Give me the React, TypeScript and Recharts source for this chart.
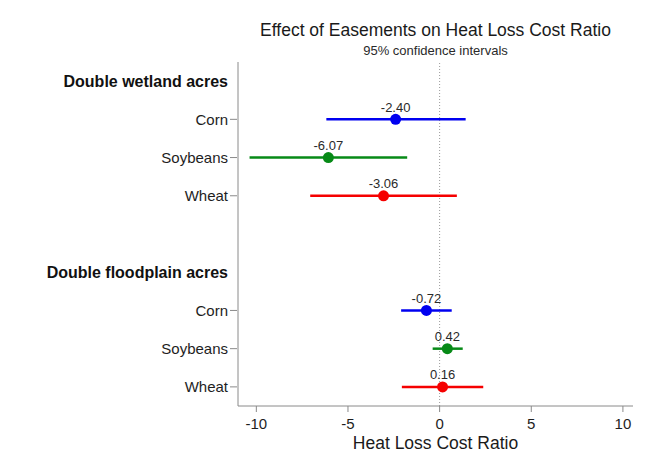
import { ScatterChart, Scatter, XAxis, YAxis, ErrorBar, ReferenceLine, LabelList } from 'recharts'

// rows from top to bottom (index = y position)
const rowLabels = ['Double wetland acres', 'Corn', 'Soybeans', 'Wheat', '', 'Double floodplain acres', 'Corn', 'Soybeans', 'Wheat']
const headerRows = [0, 5]
const wetlandRows = [1, 2, 3]
const floodplainRows = [6, 7, 8]

const crops = ['Corn', 'Soybeans', 'Wheat']
const cropColors = ['#0000f0', '#078a17', '#f50000']

const wetlandEstimates = [-2.40, -6.07, -3.06]
const wetlandLower = [-6.18, -10.37, -7.06]
const wetlandUpper = [1.42, -1.77, 0.94]

const floodplainEstimates = [-0.72, 0.42, 0.16]
const floodplainLower = [-2.10, -0.38, -2.06]
const floodplainUpper = [0.66, 1.26, 2.38]

const xTicks = [-10, -5, 0, 5, 10]
const rowTicks = [0, 1, 2, 3, 4, 5, 6, 7, 8]

const FONT = '"Liberation Sans", Arial, sans-serif'
const AXIS_GRAY = '#8a8a8a'

function cropSeries(i: number) {
  return [
    {
      x: wetlandEstimates[i],
      y: wetlandRows[i],
      err: [wetlandEstimates[i] - wetlandLower[i], wetlandUpper[i] - wetlandEstimates[i]],
      label: wetlandEstimates[i].toFixed(2),
    },
    {
      x: floodplainEstimates[i],
      y: floodplainRows[i],
      err: [floodplainEstimates[i] - floodplainLower[i], floodplainUpper[i] - floodplainEstimates[i]],
      label: floodplainEstimates[i].toFixed(2),
    },
  ]
}

function RowTick({ x, y, payload }: { x?: number; y?: number; payload?: { value: number } }) {
  const i = payload?.value ?? 0
  const text = rowLabels[i]
  if (!text) return null
  const header = headerRows.includes(i)
  return (
    <g>
      {!header && <line x1={(x ?? 0) + 1} x2={(x ?? 0) + 8} y1={y} y2={y} stroke={AXIS_GRAY} strokeWidth={1} />}
      <text
        x={(x ?? 0) - 1}
        y={y}
        dy="0.35em"
        textAnchor="end"
        fontSize={header ? 16 : 15}
        fontWeight={header ? 'bold' : 'normal'}
        fill={header ? '#111' : '#1e1e1e'}
        fontFamily={FONT}
      >
        {text}
      </text>
    </g>
  )
}

export default function App() {
  return (
    <div style={{ position: 'absolute', left: 0, top: 0, width: 654, height: 461, background: '#fff', fontFamily: FONT }}>
      <div style={{ position: 'absolute', left: 238, width: 395, top: 20, textAlign: 'center', fontSize: 17.5, color: '#1a1a1a', whiteSpace: 'nowrap' }}>
        Effect of Easements on Heat Loss Cost Ratio
      </div>
      <div style={{ position: 'absolute', left: 238, width: 395, top: 43, textAlign: 'center', fontSize: 13, color: '#2a2a2a', whiteSpace: 'nowrap' }}>
        95% confidence intervals
      </div>
      <ScatterChart width={654} height={461} margin={{ top: 62, right: 21, bottom: 10, left: 0 }} style={{ fontFamily: FONT }}>
        <XAxis
          type="number"
          dataKey="x"
          domain={[-11, 10.55]}
          ticks={xTicks}
          allowDataOverflow
          stroke={AXIS_GRAY}
          tickSize={6}
          tickMargin={6}
          height={45}
          tick={{ fontSize: 15, fill: '#1e1e1e' }}
          label={{ value: 'Heat Loss Cost Ratio', position: 'insideBottom', offset: 2, fontSize: 17.5, fill: '#1a1a1a' }}
        />
        <YAxis
          type="number"
          dataKey="y"
          domain={[-0.5, 8.5]}
          ticks={rowTicks}
          reversed
          width={238}
          stroke={AXIS_GRAY}
          tickLine={false}
          tickSize={8}
          tickMargin={1}
          tick={<RowTick />}
          interval={0}
        />
        <ReferenceLine x={0} stroke="#9a9a9a" strokeDasharray="1 2" strokeWidth={1} />
        {crops.map((crop, i) => (
          <Scatter
            key={crop}
            name={crop}
            data={cropSeries(i)}
            fill={cropColors[i]}
            isAnimationActive={false}
            shape={(p: { cx?: number; cy?: number }) => <circle cx={p.cx} cy={p.cy} r={5.5} fill={cropColors[i]} />}
          >
            <ErrorBar dataKey="err" direction="x" width={0} stroke={cropColors[i]} strokeWidth={2.5} />
            <LabelList dataKey="label" position="top" offset={3} fontSize={13} fill="#2a2a2a" />
          </Scatter>
        ))}
      </ScatterChart>
    </div>
  )
}
